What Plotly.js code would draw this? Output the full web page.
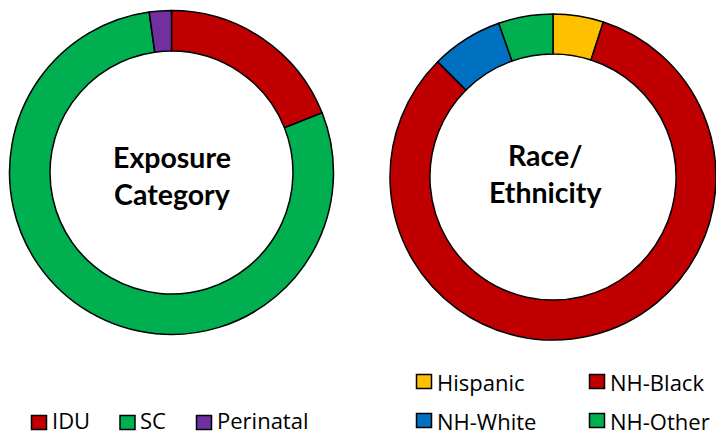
<!DOCTYPE html>
<html><head><meta charset="utf-8">
<script src="https://cdn.plot.ly/plotly-3.0.1.min.js"></script>
<style>html,body{margin:0;padding:0;background:#fff}#c{width:716px;height:436px}</style>
</head><body><div id="c"></div>
<script>
// ---- data ----
const exposureLabels = ["IDU", "SC", "Perinatal"];
const exposureValues = [19.0, 78.8, 2.2];
const exposureColors = ["#C00000", "#00B050", "#7030A0"];

const raceLabels = ["Hispanic", "NH-Black", "NH-White", "NH-Other"];
const raceValues = [5.0, 82.5, 7.1, 5.4];
const raceColors = ["#FFC000", "#C00000", "#0070C0", "#00B050"];

const centerTitles = ["Exposure<br>Category", "Race/<br>Ethnicity"];

// ---- layout constants (pixels) ----
const W = 716, H = 436;
const TITLE_FONT = "Lato, 'Open Sans', sans-serif";
const LEG_FONT = "'Open Sans', 'Noto Sans', sans-serif";
const LEG_SIZE = 22;
const SW = 15, SH = 14;            // legend swatch size
const leftLegendX = [31.5, 120, 196.5];
const leftLegendY = 422.5;
const rightLegendCols = [416.5, 589.5];
const rightLegendRows = [381.5, 420.5];

const px = v => v / W, py = v => 1 - v / H;

const data = [
  {
    type: "pie", labels: exposureLabels, values: exposureValues,
    marker: {colors: exposureColors, line: {color: "#000", width: 1.5}},
    hole: 0.75, sort: false, direction: "clockwise", rotation: 0,
    textinfo: "none", hoverinfo: "label+percent",
    domain: {x: [px(9.5), px(333.5)], y: [py(335), py(10)]}
  },
  {
    type: "pie", labels: raceLabels, values: raceValues,
    marker: {colors: raceColors, line: {color: "#000", width: 1.5}},
    hole: 0.755, sort: false, direction: "clockwise", rotation: 0,
    textinfo: "none", hoverinfo: "label+percent",
    domain: {x: [px(390), 1], y: [py(341), py(13)]}
  }
];

const shapes = [], annotations = [];
function legendItem(label, color, x, yc, bottomRow) {
  shapes.push({type: "rect", xref: "paper", yref: "paper",
    x0: px(x), x1: px(x + SW), y0: py(yc + SH / 2), y1: py(yc - SH / 2),
    fillcolor: color, line: {color: "#000", width: 1.5}});
  const ann = {text: label, xref: "paper", yref: "paper",
    x: px(x + SW + 4), xanchor: "left", borderpad: 0,
    showarrow: false, font: {family: LEG_FONT, size: LEG_SIZE, color: "#000"}};
  if (bottomRow) { ann.y = 0; ann.yanchor = "bottom"; }
  else { ann.y = py(yc); ann.yanchor = "middle"; }
  annotations.push(ann);
}
exposureLabels.forEach((l, i) => legendItem(l, exposureColors[i], leftLegendX[i], leftLegendY, true));
raceLabels.forEach((l, i) => legendItem(l, raceColors[i],
  rightLegendCols[i % 2], rightLegendRows[Math.floor(i / 2)], false));

annotations.push(
  {text: "<b>" + centerTitles[0] + "</b>", x: px(171.5), y: py(175.5),
   xref: "paper", yref: "paper", showarrow: false, xanchor: "center", yanchor: "middle",
   font: {family: TITLE_FONT, size: 28.5, color: "#000"}},
  {text: "<b>" + centerTitles[1] + "</b>", x: px(545), y: py(173),
   xref: "paper", yref: "paper", showarrow: false, xanchor: "center", yanchor: "middle",
   font: {family: TITLE_FONT, size: 28.5, color: "#000"}}
);

const layout = {
  width: W, height: H,
  margin: {l: 0, r: 0, t: 0, b: 0, autoexpand: false},
  paper_bgcolor: "#fff",
  showlegend: false,
  shapes: shapes,
  annotations: annotations
};

Plotly.newPlot("c", data, layout, {displayModeBar: false, staticPlot: true});
</script>
</body></html>
